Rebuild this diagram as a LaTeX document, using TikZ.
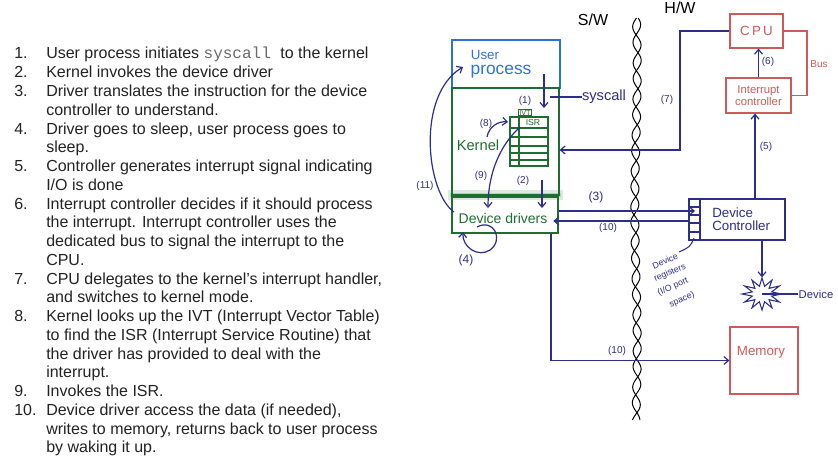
\documentclass[tikz,border=0pt]{standalone}
\usepackage{fontspec}
\setmainfont{Liberation Sans}
\setmonofont{Liberation Mono}
\usetikzlibrary{arrows.meta}
\definecolor{txt}{RGB}{34,34,34}
\definecolor{monog}{RGB}{105,105,105}
\definecolor{ublue}{RGB}{45,115,215}
\definecolor{kgreen}{RGB}{30,110,50}
\definecolor{navy}{RGB}{45,45,140}
\definecolor{hred}{RGB}{205,90,90}
\newcommand\Lrow[3]{\node[listtxt] (#1) at (46,{59+18.76*#2}) {#3};}
\newcommand\Lnum[3]{\node[listtxt] (#1) at (14,{59+18.76*#2}) {#3};}
\newcommand\fs[1]{\fontsize{#1}{#1}\selectfont}
\begin{document}
\begin{tikzpicture}[x=0.75pt,y=-0.75pt,
  listtxt/.style={anchor=base west, inner sep=0pt, font=\fontsize{12pt}{14pt}\selectfont, text=txt},
  box/.style={draw, rectangle, inner sep=0pt, line width=0.9pt},
  arr/.style={navy, line width=0.9pt, -{Straight Barb[length=3.5pt,width=6pt]}},
  lab/.style={inner sep=0pt, text=navy, font=\fs{7.5pt}},
  hand/.style={inner sep=0pt},
  reg/.style={inner sep=0pt, text=navy, font=\fs{6.6pt}, rotate=24},
]
\useasboundingbox (0,0) rectangle (838,459);

% ---------- list ----------
\Lnum{n1}{0}{1.}  \Lrow{l0}{0}{User process initiates \textcolor{monog}{\texttt{syscall }}to the kernel}
\Lnum{n2}{1}{2.}  \Lrow{l1}{1}{Kernel invokes the device driver}
\Lnum{n3}{2}{3.}  \Lrow{l2}{2}{Driver translates the instruction for the device}
                  \Lrow{l3}{3}{controller to understand.}
\Lnum{n4}{4}{4.}  \Lrow{l4}{4}{Driver goes to sleep, user process goes to}
                  \Lrow{l5}{5}{sleep.}
\Lnum{n5}{6}{5.}  \Lrow{l6}{6}{Controller generates interrupt signal indicating}
                  \Lrow{l7}{7}{I/O is done}
\Lnum{n6}{8}{6.}  \Lrow{l8}{8}{Interrupt controller decides if it should process}
                  \Lrow{l9}{9}{the interrupt. Interrupt controller uses the}
                  \Lrow{l10}{10}{dedicated bus to signal the interrupt to the}
                  \Lrow{l11}{11}{CPU.}
\Lnum{n7}{12}{7.} \Lrow{l12}{12}{CPU delegates to the kernel’s interrupt handler,}
                  \Lrow{l13}{13}{and switches to kernel mode.}
\Lnum{n8}{14}{8.} \Lrow{l14}{14}{Kernel looks up the IVT (Interrupt Vector Table)}
                  \Lrow{l15}{15}{to find the ISR (Interrupt Service Routine) that}
                  \Lrow{l16}{16}{the driver has provided to deal with the}
                  \Lrow{l17}{17}{interrupt.}
\Lnum{n9}{18}{9.} \Lrow{l18}{18}{Invokes the ISR.}
\Lnum{n10}{19}{10.} \Lrow{l19}{19}{Device driver access the data (if needed),}
                  \Lrow{l20}{20}{writes to memory, returns back to user process}
                  \Lrow{l21}{21}{by waking it up.}

% ---------- software side ----------
\node[box, draw=ublue, minimum width=81pt, minimum height=36pt] (user) at (506,64) {};
\node[hand, text=ublue, font=\fs{10pt}] (ut1) at (485,55) {User};
\node[hand, text=ublue, font=\fs{13pt}] (ut2) at (501,72) {process};

\node[box, draw=kgreen, minimum width=80.25pt, minimum height=80.25pt] (kernel) at (505.5,141.5) {};
\node[hand, text=kgreen, font=\fs{11pt}] (kt) at (478,145) {Kernel};
\draw[kgreen, opacity=0.15, line width=7pt] (448,195) -- (563,195);
\draw[kgreen, opacity=0.2, line width=3pt] (450,195) -- (561,195);

\node[box, draw=kgreen, minimum width=79.5pt, minimum height=27pt] (drv) at (505,215) {};
\node[hand, text=kgreen, font=\fs{10.5pt}] (dt) at (503,218) {Device drivers};

% IVT table
\node[box, draw=kgreen, line width=1.2pt, minimum width=28.5pt, minimum height=36.75pt] (ivt) at (529,141.5) {};
\draw[kgreen, line width=1.2pt] (519,117) -- (519,166);
\foreach \yy in {128,137,146,153,160} \draw[kgreen, line width=1.2pt] (510,\yy) -- (548,\yy);
\node[hand, text=kgreen, font=\fs{6.5pt}] (isr) at (533,122.5) {ISR};
\node[draw=kgreen, line width=0.6pt, inner sep=0.6pt, text=kgreen, font=\fs{5.5pt}] (ivtl) at (525,112.5) {IVT};

% arrows on software side
\coordinate (a1s) at (544,74); \coordinate (a1e) at (544,108);
\draw[arr] (a1s) -- (a1e);
\node[lab] (L1) at (525,101) {(1)};
\node[hand, text=navy, font=\fs{11pt}] (sysc) at (604,97) {syscall};
\coordinate (sysend) at (550,97);
\draw[navy, line width=0.9pt] (sysc.west) -- (sysend);

\coordinate (a2s) at (542,180); \coordinate (a2e) at (542,208);
\draw[arr] (a2s) -- (a2e);
\node[lab] (L2) at (523,181) {(2)};

\coordinate (a8s) at (487,137); \coordinate (a8e) at (508,122);
\draw[arr] (a8s) .. controls (489,126) and (499,121) .. (a8e);
\node[lab] (L8) at (486,124) {(8)};

\coordinate (a9s) at (520,127); \coordinate (a9e) at (488,208);
\draw[arr] (a9s) .. controls (497,148) and (488,178) .. (a9e);
\node[lab] (L9) at (481,176) {(9)};

\coordinate (a11s) at (454,212); \coordinate (a11e) at (463,67);
\draw[arr] (a11s) .. controls (426,192) and (416,95) .. (a11e);
\node[lab] (L11) at (425,186) {(11)};

\coordinate (a4s) at (477,227); \coordinate (a4e) at (463,232);
\draw[arr] (a4s) .. controls (494,218) and (504,240) .. (490,250) .. controls (478,258) and (462,247) .. (a4e);
\node[lab, font=\fs{9pt}] (L4) at (466,260) {(4)};

% ---------- divider ----------
\draw[black, line width=0.75pt] plot[domain=18:420, samples=400] ({636+1.2*sin(1.3*\x)+4*sin(10*\x)}, \x);
\draw[black, line width=0.75pt] plot[domain=18:420, samples=400] ({636+1.2*sin(1.3*\x)-4*sin(10*\x+25)}, \x);
\node[hand, font=\fs{12pt}] (sw) at (593,20) {S/W};
\node[hand, font=\fs{12pt}] (hw) at (680,8) {H/W};

% ---------- hardware side ----------
\node[box, draw=hred, minimum width=39.75pt, minimum height=25.5pt, text=hred, font=\fs{10pt}] (cpu) at (756.5,31) {C\,P\,U};
\node[box, draw=hred, minimum width=48.75pt, minimum height=26.25pt, text=hred, font=\fs{8.5pt}, align=center] (intc) at (758.5,95.5) {Interrupt\\controller};
\draw[hred, line width=0.9pt] (cpu.east) -- (807,31) |- (intc.east);
\node[hand, text=hred, font=\fs{7.5pt}] (bus) at (819,64) {Bus};

\node[box, draw=navy, minimum width=72pt, minimum height=30.75pt] (dc) at (737,219.5) {};
\draw[navy, line width=0.9pt] (700,199) -- (700,240);
\foreach \yy in {207,215,223,232} \draw[navy, line width=0.9pt] (689,\yy) -- (700,\yy);
\node[hand, text=navy, font=\fs{10pt}, align=left, anchor=west] (dct) at (712,219.5) {Device\\Controller};

\node[box, draw=hred, minimum width=51pt, minimum height=50.25pt] (mem) at (764,360.5) {};
\node[hand, text=hred, font=\fs{10pt}] (memt) at (761,352) {Memory};

\coordinate (dev) at (762,294);
\draw[navy, line width=0.8pt] plot[domain=0:360, samples=25] ({762+(15+5*cos(12*\x))*cos(\x)}, {294+0.8*(15+5*cos(12*\x))*sin(\x)});
\node[hand, text=navy, font=\fs{8.5pt}] (devt) at (816,294) {Device};
\draw[navy, line width=0.9pt] (dev) -- (devt.west);
\draw[arr] (dc.south -| dev) -- ([yshift=12.5pt]dev);

\node[reg] (dr1) at (665,261) {Device};
\node[reg] (dr2) at (670,273) {registers};
\node[reg] (dr3) at (673,287) {(I/O port};
\node[reg] (dr4) at (682,300) {space)};
\draw[navy, line width=0.8pt] (694,238) .. controls (690,247) .. (679,252);

% connectors
\coordinate (k7) at (680,150);
\draw[arr] (cpu.west) -| (k7) -- (kernel.east |- k7);
\node[lab] (L7) at (667,100) {(7)};

\draw[arr] (intc.north) -- (intc.north |- cpu.south);
\node[lab] (L6) at (768,62) {(6)};

\coordinate (p5) at (755,150);
\draw[arr] (p5 |- dc.north) -- (p5 |- intc.south);
\node[lab] (L5) at (766,147) {(5)};

\coordinate (y3) at (0,211); \coordinate (y10) at (0,221);
\draw[arr] (drv.east |- y3) -- ([xshift=5pt]dc.west |- y3);
\draw[arr] (dc.west |- y10) -- ([xshift=-4pt]drv.east |- y10);
\node[lab, font=\fs{9pt}] (L3) at (596,197) {(3)};
\node[lab] (L10a) at (608,228) {(10)};

\coordinate (x10) at (551,0);
\draw[arr] (drv.south -| x10) |- (mem.west);
\node[lab] (L10b) at (617,351) {(10)};
\end{tikzpicture}
\end{document}
